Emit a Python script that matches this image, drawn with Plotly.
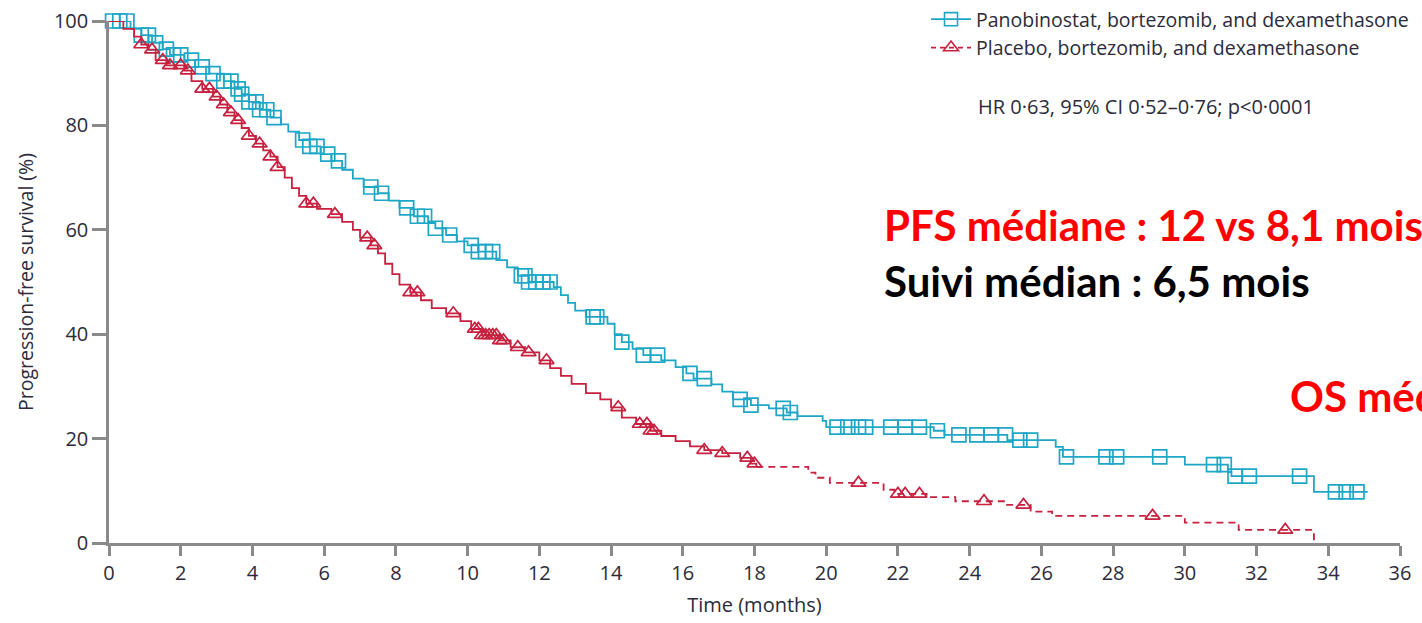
import numpy as np
import plotly.graph_objects as go

# ---------------- data ----------------
# Kaplan-Meier steps: time (months) at which each step starts, survival (%)
pano_t = [0, 0.6, 0.9, 1.2, 1.5, 1.7, 2.1, 2.4, 2.8, 3.2, 3.5, 3.7, 3.9, 4.2, 4.5,
          4.8, 5.0, 5.3, 5.6, 5.9, 6.2, 6.5, 6.8, 7.1, 7.5, 7.8, 8.1, 8.5, 8.9, 9.1,
          9.4, 9.7, 10.0, 10.3, 10.8, 11.1, 11.4, 11.7, 12.4, 12.6, 12.8, 13.0, 13.3,
          13.9, 14.1, 14.3, 14.6, 14.9, 15.4, 15.8, 16.1, 16.3, 16.8, 17.1, 17.4,
          17.9, 18.4, 18.9, 19.2, 19.9, 20.0, 23.0, 23.3, 25.05, 26.4, 26.6, 30.0,
          31.2, 31.3, 33.6, 35.1]
pano_s = [100, 98.5, 97.3, 95.8, 94.6, 93.5, 92.5, 91.2, 89.9, 88.5, 87.0, 86.0, 84.5,
          83.0, 81.5, 80.2, 78.8, 77.2, 76.0, 74.5, 73.2, 71.5, 69.8, 68.2, 67.0, 65.6,
          64.2, 62.6, 61.3, 60.3, 59.0, 57.8, 57.0, 55.8, 54.2, 52.8, 51.2, 50.0, 49.0,
          47.5, 46.0, 44.5, 43.3, 42.0, 40.0, 38.5, 37.2, 36.0, 35.0, 33.7, 32.5, 31.5,
          30.4, 29.0, 27.5, 26.4, 25.8, 25.0, 24.3, 23.4, 22.2, 21.5, 20.7, 19.7, 18.4,
          16.5, 15.0, 13.6, 12.8, 9.8, 9.8]

plac_t = [0, 0.4, 0.7, 0.9, 1.1, 1.3, 1.6, 2.1, 2.3, 2.6, 2.9, 3.1, 3.3, 3.5, 3.7, 3.9,
          4.1, 4.3, 4.5, 4.7, 4.9, 5.1, 5.3, 5.5, 5.8, 6.2, 6.5, 6.8, 7.0, 7.3, 7.5,
          7.7, 7.9, 8.1, 8.4, 8.7, 9.0, 9.4, 9.8, 10.1, 10.4, 10.9, 11.2, 11.6, 12.0,
          12.3, 12.6, 12.9, 13.3, 13.7, 14.0, 14.3, 14.7, 15.1, 15.4, 15.8, 16.2, 16.6,
          17.1, 17.6, 17.9, 18.05, 19.5, 19.7, 20.1, 21.6, 21.9, 22.8, 23.6, 25.0,
          25.7, 26.3, 30.0, 31.5, 33.6]
plac_s = [100, 98.5, 97, 95.5, 94.5, 92.5, 91.5, 90.5, 88.5, 87, 85.5, 84, 82.5, 81,
          79.5, 78, 76.5, 75.2, 74, 72, 70, 68, 66.5, 65, 64, 63, 61.5, 60, 58.5, 57,
          55.5, 53.5, 51.5, 49.5, 48, 46.5, 45, 44, 42.5, 41, 39.8, 38.8, 37.5, 36.5, 35,
          33.5, 32, 30.5, 28.7, 27.5, 26, 24, 22.8, 21.5, 20.5, 19.5, 18.5, 17.8, 17.2,
          16.3, 15.2, 14.6, 13.5, 12.5, 11.5, 10.2, 9.4, 8.8, 8.0, 7.3, 6.0, 5.2, 3.9,
          2.5, 0]

# censoring times (months)
pano_cens = [0.1, 0.3, 0.5, 0.9, 1.1, 1.3, 1.6, 1.8, 2.0, 2.3, 2.6, 2.9, 3.2, 3.4, 3.6,
             3.7, 3.9, 4.1, 4.2, 4.4, 4.6, 5.4, 5.6, 5.8, 6.1, 6.4, 7.3, 7.6, 8.3, 8.6,
             8.8, 9.1, 9.5, 10.1, 10.3, 10.5, 10.7, 11.5, 11.6, 11.7, 11.9, 12.1, 12.3,
             13.5, 13.6, 14.3, 14.9, 15.3, 16.2, 16.6, 17.6, 17.9, 18.8, 19.0, 20.3,
             20.6, 20.9, 21.1, 21.8, 22.2, 22.6, 23.1, 23.7, 24.2, 24.6, 25.0, 25.4,
             25.7, 26.7, 27.8, 28.1, 29.3, 30.8, 31.1, 31.4, 31.8, 33.2, 34.2, 34.5, 34.8]
plac_cens = [0.9, 1.2, 1.5, 1.7, 2.0, 2.2, 2.6, 2.8, 3.0, 3.2, 3.4, 3.6, 3.9, 4.2, 4.5,
             4.7, 5.5, 5.7, 6.3, 7.2, 7.4, 8.4, 8.6, 9.6, 10.2, 10.3, 10.4, 10.5, 10.6,
             10.7, 10.8, 10.9, 11.0, 11.4, 11.7, 12.2, 14.2, 14.8, 15.0, 15.1, 15.2,
             16.6, 17.1, 17.8, 18.0, 20.9, 22.0, 22.2, 22.6, 24.4, 25.5, 29.1, 32.8]

x_ticks = list(range(0, 37, 2))
y_ticks = [0, 20, 40, 60, 80, 100]

BLUE = "#1ea6c6"
RED = "#c8203f"
TXT = "#2b2b3b"
AXIS = "#8a8a8a"

# canvas geometry (pixels)
W, H = 1422, 623
L, R, T, B = 109, 22, 21, 80
PW, PH = W - L - R, H - T - B


def px(xp):
    return (xp - L) / PW


def py(yp):
    return (H - B - yp) / PH


def step_value(times, surv, t):
    i = np.searchsorted(np.asarray(times), t, side="right") - 1
    return np.asarray(surv)[i]


pano_cy = [step_value(pano_t, pano_s, t) for t in pano_cens]
plac_cy = [step_value(plac_t, plac_s, t) for t in plac_cens]

# split the placebo curve into solid (<= 18 mo) and dashed (>= 18 mo) parts
cut = 18.05
k = plac_t.index(cut)
plac_solid_t, plac_solid_s = plac_t[:k + 1], plac_s[:k + 1]
plac_dash_t, plac_dash_s = plac_t[k:], plac_s[k:]

fig = go.Figure()

fig.add_trace(go.Scatter(x=pano_t, y=pano_s, mode="lines", line_shape="hv",
                         line=dict(color=BLUE, width=1.8), showlegend=False,
                         hoverinfo="skip"))
fig.add_trace(go.Scatter(x=pano_cens, y=pano_cy, mode="markers",
                         marker=dict(symbol="square-open", size=14, color=BLUE,
                                     line=dict(width=1.7, color=BLUE)),
                         showlegend=False, cliponaxis=False))
fig.add_trace(go.Scatter(x=plac_solid_t, y=plac_solid_s, mode="lines", line_shape="hv",
                         line=dict(color=RED, width=1.8), showlegend=False))
fig.add_trace(go.Scatter(x=plac_dash_t, y=plac_dash_s, mode="lines", line_shape="hv",
                         line=dict(color=RED, width=1.8, dash="7px,5px"),
                         showlegend=False))
fig.add_trace(go.Scatter(x=plac_cens, y=plac_cy, mode="markers",
                         marker=dict(symbol="triangle-up-open", size=13, color=RED,
                                     line=dict(width=1.7, color=RED)),
                         showlegend=False, cliponaxis=False))

# legend entries
fig.add_trace(go.Scatter(x=[None], y=[None], mode="lines+markers",
                         name="Panobinostat, bortezomib, and dexamethasone",
                         line=dict(color=BLUE, width=1.8),
                         marker=dict(symbol="square-open", size=13, color=BLUE,
                                     line=dict(width=1.6, color=BLUE))))
fig.add_trace(go.Scatter(x=[None], y=[None], mode="lines+markers",
                         name="Placebo, bortezomib, and dexamethasone",
                         line=dict(color=RED, width=1.8, dash="5px,4px"),
                         marker=dict(symbol="triangle-up-open", size=13, color=RED,
                                     line=dict(width=1.6, color=RED))))

fig.update_layout(
    width=W, height=H,
    margin=dict(l=L, r=R, t=T, b=B, autoexpand=False),
    paper_bgcolor="white", plot_bgcolor="white",
    font=dict(family="Open Sans", size=19, color=TXT),
    legend=dict(x=px(926), y=py(0), xanchor="left", yanchor="top",
                bgcolor="rgba(0,0,0,0)", borderwidth=0, itemwidth=40,
                font=dict(family="Open Sans", size=19.5, color=TXT),
                tracegroupgap=0, itemclick=False),
    xaxis=dict(range=[0, 36], tickvals=x_ticks, showgrid=False, zeroline=False,
               showline=True, linecolor=AXIS, linewidth=2.5,
               ticks="outside", ticklen=10, tickwidth=2.5, tickcolor=AXIS,
               tickfont=dict(size=20, color=TXT),
               title=dict(text="Time (months)", font=dict(size=20, color=TXT),
                          standoff=14)),
    yaxis=dict(range=[0, 100], tickvals=y_ticks, showgrid=False, zeroline=False,
               showline=True, linecolor=AXIS, linewidth=2.5,
               ticks="outside", ticklen=14, tickwidth=2.5, tickcolor=AXIS,
               tickfont=dict(size=20, color=TXT),
               title=dict(text="Progression-free survival (%)",
                          font=dict(size=19.5, color=TXT), standoff=16)),
)

fig.add_annotation(x=px(976), y=py(106), xref="paper", yref="paper",
                   xanchor="left", yanchor="middle", showarrow=False,
                   text="HR 0·63, 95% CI 0·52–0·76; p<0·0001",
                   font=dict(family="Open Sans", size=20, color=TXT))

BIG = dict(family="Lato", size=42, weight="bold")
fig.add_annotation(x=px(882), y=py(225), xref="paper", yref="paper",
                   xanchor="left", yanchor="middle", showarrow=False,
                   text="PFS médiane : 12 vs 8,1 mois",
                   font=dict(**BIG, color="#ff0000"))
fig.add_annotation(x=px(882), y=py(281), xref="paper", yref="paper",
                   xanchor="left", yanchor="middle", showarrow=False,
                   text="Suivi médian : 6,5 mois",
                   font=dict(**BIG, color="#000000"))
fig.add_annotation(x=px(1288), y=py(396), xref="paper", yref="paper",
                   xanchor="left", yanchor="middle", showarrow=False,
                   text="OS médiane : 40,3 vs 35,8 mois",
                   font=dict(**BIG, color="#ff0000"))

fig.write_html("out.html")
